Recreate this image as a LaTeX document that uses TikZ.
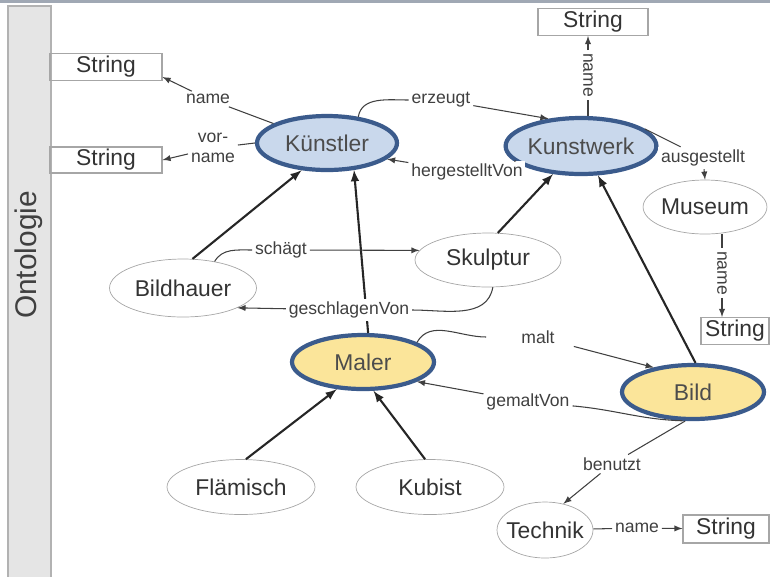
\documentclass[tikz,border=0pt]{standalone}
\usepackage{fontspec}
\setmainfont{Liberation Sans}
\usetikzlibrary{positioning,shapes.geometric,arrows}
\tikzset{every picture/.style={>=latex}}
\definecolor{ontoblue}{HTML}{3B5B8C}
\definecolor{lightblue}{HTML}{C9D8EC}
\definecolor{lightyellow}{HTML}{FBE59A}
\definecolor{linegray}{HTML}{404040}
\definecolor{topline}{HTML}{A0A8B4}
\tikzset{klasse/.style={ellipse,draw=gray!70,inner sep=0pt,font=\fontsize{13}{15}\selectfont,text=black!80}}
\tikzset{hauptklasse/.style={klasse,draw=ontoblue,line width=2.4pt,text=black!70}}
\tikzset{datentyp/.style={rectangle,draw=gray!70,semithick,inner sep=0pt,font=\fontsize{13}{15}\selectfont,text=black!80}}
\tikzset{rolle/.style={fill=white,inner sep=1.5pt,font=\fontsize{10}{11}\selectfont,text=black!75}}
\tikzset{isa/.style={->,line width=1.2pt,black!85}}
\tikzset{prop/.style={semithick,linegray}}

\begin{document}
\begin{tikzpicture}[x=0.02cm,y=-0.02cm]
  \useasboundingbox (0,0) rectangle (770,576);
  \draw[topline,line width=2pt] (0,1.5) -- (770,1.5);
  \draw[gray!60,fill=gray!20,line width=1pt] (8,6) rectangle (51,600);
  \node[rotate=90,font=\fontsize{17}{19}\selectfont,text=black!75] (onto) at (29,255) {Ontologie};

  % Klassen
  \node[hauptklasse,fill=lightblue,minimum width=2.8cm,minimum height=1.08cm] (kuenstler) at (327,143) {Künstler};
  \node[hauptklasse,fill=lightblue,minimum width=2.82cm,minimum height=1.12cm] (kunstwerk) at (581,146) {Kunstwerk};
  \node[klasse,minimum width=2.36cm,minimum height=1.08cm] (museum) at (705,207) {Museum};
  \node[klasse,minimum width=2.92cm,minimum height=1.08cm] (skulptur) at (488,260) {Skulptur};
  \node[klasse,minimum width=2.94cm,minimum height=1.16cm] (bildhauer) at (183,288) {Bildhauer};
  \node[hauptklasse,fill=lightyellow,minimum width=2.84cm,minimum height=1.08cm] (maler) at (363,362) {Maler};
  \node[hauptklasse,fill=lightyellow,minimum width=2.84cm,minimum height=1.08cm] (bild) at (693,392) {Bild};
  \node[klasse,inner xsep=-0.25cm,minimum width=1.92cm,minimum height=1.12cm] (technik) at (545,530) {Technik};
  \node[klasse,minimum width=2.96cm,minimum height=1.1cm] (flaemisch) at (241,487) {Flämisch};
  \node[klasse,minimum width=2.96cm,minimum height=1.1cm] (kubist) at (430,487) {Kubist};

  % Datentypen
  \node[datentyp,minimum width=2.24cm,minimum height=0.54cm] (string1) at (106,67) {String};
  \node[datentyp,minimum width=2.24cm,minimum height=0.52cm] (string2) at (106,160) {String};
  \node[datentyp,minimum width=2.2cm,minimum height=0.54cm] (stringtop) at (593,22) {String};
  \node[datentyp,minimum width=1.36cm,minimum height=0.54cm] (stringmus) at (735,331) {String};
  \node[datentyp,minimum width=1.72cm,minimum height=0.56cm] (stringtech) at (726,529) {String};

  % Unterklassen
  \draw[isa] (bildhauer.72) -- (kuenstler.227);
  \draw[isa] (skulptur.70) -- (kunstwerk.225);
  \draw[isa] (maler.80) -- (kuenstler.-45);
  \draw[isa] (bild.85) -- (kunstwerk.-60);
  \draw[isa] (flaemisch.80) -- (maler.226);
  \draw[isa] (kubist.100) -- (maler.-70);

  % Rollen
  \node[rolle] (name1) at (208,99) {name};
  \node[rolle,align=center] (vorname) at (213,148) {vor-\\name};
  \node[rolle] (erzeugt) at (441,100) {erzeugt};
  \node[rolle] (hergestellt) at (467,172) {hergestelltVon};
  \node[rolle,rotate=-90] (nametop) at (588,75) {name};
  \node[rolle] (ausgestellt) at (703,158) {ausgestellt};
  \node[rolle,rotate=-90] (namemus) at (722,273) {name};
  \node[rolle] (schaegt) at (281,250) {schägt};
  \node[rolle] (geschlagen) at (349,310) {geschlagenVon};
  \node[rolle,inner xsep=0.7cm] (malt) at (538,337) {malt};
  \node[rolle] (gemalt) at (528,402) {gemaltVon};
  \node[rolle] (benutzt) at (612,464) {benutzt};
  \node[rolle] (nametech) at (637,528) {name};

  \draw[prop] (kuenstler.160) -- (name1);
  \draw[prop,->] (name1) -- ([yshift=-0.2cm]string1.east);
  \draw[prop] (kuenstler.west) -- (vorname);
  \draw[prop,->] (vorname) -- (string2.east);
  \draw[prop] (kuenstler.40) to[out=80,in=180] (erzeugt);
  \draw[prop,->] (erzeugt) -- (kunstwerk.140);
  \draw[prop] (kunstwerk) -- (hergestellt);
  \draw[prop,->] (hergestellt) -- (kuenstler.-15);
  \draw[prop] (kunstwerk.north -| nametop) -- (nametop);
  \draw[prop,->] (nametop) -- (nametop |- stringtop.south);
  \draw[prop] (kunstwerk.15) -- (ausgestellt);
  \draw[prop,->] (ausgestellt) -- (museum.north);
  \draw[prop] (namemus |- museum.south) -- (namemus);
  \draw[prop,->] (namemus) -- (namemus |- stringmus.north);
  \draw[prop] (bildhauer.40) to[out=60,in=180] (schaegt);
  \draw[prop,->] (schaegt) -- (skulptur.172);
  \draw[prop] (skulptur.-80) to[out=-100,in=0] (geschlagen);
  \draw[prop,->] (geschlagen) -- (bildhauer.-20);
  \draw[prop] (maler.20) to[out=60,in=180] (malt);
  \draw[prop,->] (malt) -- (bild.148);
  \draw[prop] (bild.250) to[out=178,in=-5] (gemalt);
  \draw[prop,->] (gemalt) -- (maler.-20);
  \draw[prop] (bild.255) -- (benutzt);
  \draw[prop,->] (benutzt) -- (technik.55);
  \draw[prop] (technik) -- (nametech);
  \draw[prop,->] (nametech) -- (stringtech);
\end{tikzpicture}
\end{document}
